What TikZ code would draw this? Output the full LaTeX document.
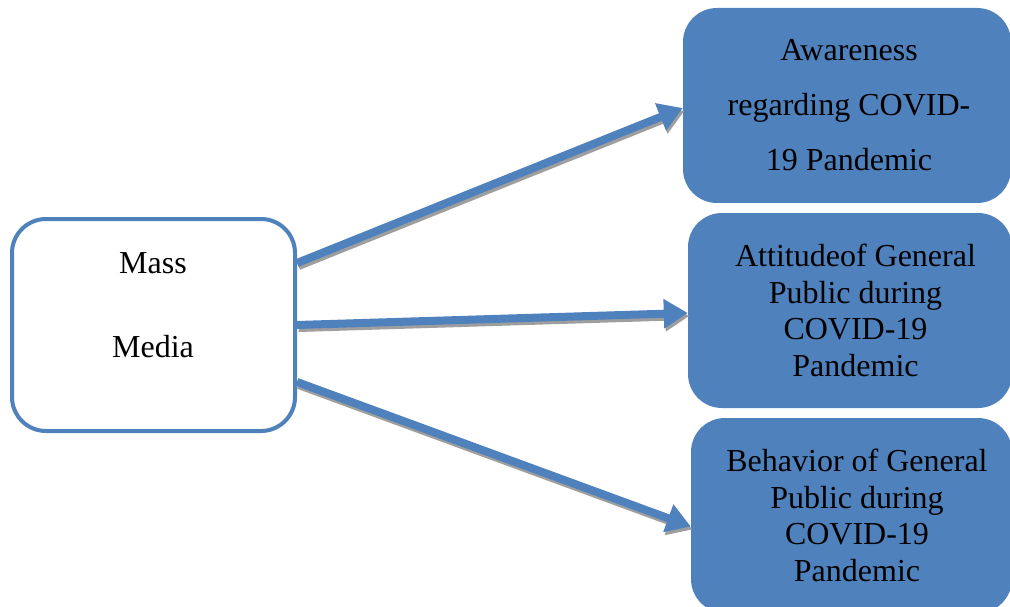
\documentclass[tikz,border=0pt]{standalone}
\usepackage{fontspec}
\setmainfont{Liberation Serif}
\usetikzlibrary{arrows.meta}
\definecolor{offblue}{HTML}{4F81BD}
\definecolor{shadowgray}{RGB}{158,158,158}
\begin{document}
\begin{tikzpicture}[x=1pt,y=-1pt,
  txt/.style={align=center, text=black, inner sep=0pt},
  target/.style={draw=none, fill=offblue, rounded corners=34pt, minimum height=195pt, inner sep=0pt},
  source/.style={draw=offblue, line width=4pt, fill=white, rounded corners=34pt, minimum width=283pt, minimum height=212pt},
  conn/.style={line width=8pt, draw=offblue, -{Triangle[width=28pt,length=24pt]}},
  connshadow/.style={line width=8pt, draw=shadowgray, -{Triangle[width=28pt,length=24pt]}, transform canvas={xshift=1.5pt,yshift=-3pt}}]
\useasboundingbox (0,0) rectangle (1010,607);
\fill[white] (0,0) rectangle (1010,607);

\node[source] (mm) at (153.5,325) {};
\node[txt, font=\fontsize{32}{84}\selectfont] (mmtext) at (153,305) {Mass\\Media};

\node[target, minimum width=328pt] (t1) at (847,105.5) {};
\node[target, minimum width=324pt] (t2) at (850,310.5) {};
\node[target, minimum width=321pt] (t3) at (851.5,515.5) {};
\node[txt, font=\fontsize{32}{55}\selectfont] (t1text) at (849,105.5) {Awareness\\regarding COVID-\\19 Pandemic};
\node[txt, font=\fontsize{32}{36.5}\selectfont] (t2text) at (855.5,310.5) {Attitudeof General\\Public during\\COVID-19\\Pandemic};
\node[txt, font=\fontsize{32}{36.5}\selectfont] (t3text) at (857,515.5) {Behavior of General\\Public during\\COVID-19\\Pandemic};

\draw[connshadow] ([yshift=62pt]mm.east) -- ([yshift=-2.5pt]t1.west);
\draw[connshadow] (mm.east) -- ([yshift=-2.5pt]t2.west);
\draw[connshadow] ([yshift=-57pt]mm.east) -- ([yshift=-11pt]t3.west);
\draw[conn] ([yshift=62pt]mm.east) -- ([yshift=-2.5pt]t1.west);
\draw[conn] (mm.east) -- ([yshift=-2.5pt]t2.west);
\draw[conn] ([yshift=-57pt]mm.east) -- ([yshift=-11pt]t3.west);
\end{tikzpicture}
\end{document}
